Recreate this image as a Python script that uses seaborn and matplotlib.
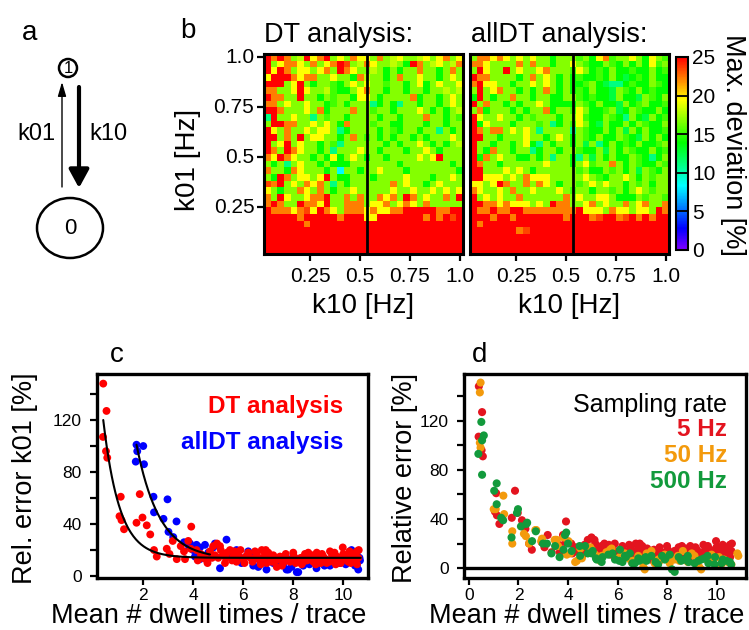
import colorsys
import numpy as np
import pandas as pd
import matplotlib
matplotlib.use("Agg")
import matplotlib.pyplot as plt
from matplotlib.colors import ListedColormap
from matplotlib.patches import Ellipse
import seaborn as sns

sns.set_theme(style="white")
plt.rcParams["font.family"] = ["Liberation Sans", "DejaVu Sans"]
plt.rcParams.update({"text.color": "black", "axes.labelcolor": "black",
                     "xtick.color": "black", "ytick.color": "black"})

# ---------------- panel b: maximal deviation maps ----------------
rate_steps = 30                      # rates k = 1/30 ... 30/30 Hz
k_ticks = [0.25, 0.5, 0.75, 1.0]
k_tick_labels = ["0.25", "0.5", "0.75", "1.0"]
colorbar_ticks = [0, 5, 10, 15, 20, 25]

# deviation classes in % (R = red ... C = cyan)
level_values = {"R": 25.0, "r": 23.5, "O": 22.2, "o": 20.8, "Y": 19.4, "y": 18.0,
                "L": 16.7, "l": 15.3, "G": 13.9, "g": 12.5, "T": 11.1, "C": 8.3}

# rows from k01 = 1.0 (top) down to k01 = 1/30; columns k10 = 1/30 ... 1.0
dt_rows = [
    "ROROLyRYORLYLOY" + "YLOLyYLLyYLYOLY",
    "RLYOOYLOLYORrLy" + "OYLLyLGROLyYLyO",
    "RYROLYYLYOLROYL" + "LyLGLGLLOLLGLOL",
    "YRRROYOOLLYLLGO" + "yLLGLOLLYLLGLYL",
    "RRRLYRLGLLlGLYL" + "YLLlLLGLYGLYLLY",
    "OOLLYRYLLylGGLY" + "OLLGLLGLLGLLyLy",
    "ROOLLRLLGLlLLGY" + "YLGLLLLOGLLGLYL",
    "OOLYLLYLLGlLGLL" + "LTGLGTLLGLLGLYL",
    "RROLLLYLOGLLLOL" + "LlLLGLLLYLGLGLy",
    "TRLLYLLTLlLLGLL" + "LLGLLGLLLOLLGLl",
    "LRROOLLYLYLGOLL" + "LlLLGGLLLGLLGLL",
    "RYLOLLYLYYLTGLL" + "LLGLlGLLGLLTLGL",
    "RRLOLRLYYLLGLOL" + "lLGLGLLGLGLLLYL",
    "RLYRLYLLGLlTLLL" + "LLLGLGLLYLGLGLy",
    "ROLROYLLGLTLLLY" + "LLGLLLGLLYLGLLL",
    "OYROYLLGLGYGLYL" + "GLLGLLLLYLYRLLL",
    "LGLTLYLLGLGGGLL" + "LLLLLGLLLLLLLGL",
    "OLLGOYLLLGLCLLG" + "LLYLLLGLLLLLLLG",
    "LGROLYYLYRLGGLL" + "LGLLLLYLLLGLLYL",
    "rORLYLOYOLTLGLL" + "LLLLOLYLLGLYLLL",
    "YLGLLOYLOLGLLYL" + "LLLLYLLYLLYLYLY",
    "OLRYLLYOORLLOLO" + "LLOYOLROLYLLOLR",
    "OROLLROOYRLLOOO" + "LYYOLYOYLOLLLLL",
    "ROOOYOrYROYLOOO" + "YOYYOORRRRROORR",
    "RRRRRORRRRRORRR" + "YYRRRRRRRORORrR",
    "RRRRRRORRRRRRRR" + "RRRRRRRRRRRRRRR",
    "RRRRRRRRRRRRRRR" + "RRRRRRRRRRRRRRR",
    "RRRRRRRRRRRRRRR" + "RRRRRRRRRRRRRRR",
    "RRRRRRRRRRRRRRR" + "RRRRRRRRRRRRRRR",
    "RRRRRRRRRRRRRRR" + "RRRRRRRRRRRRRRR",
]

alldt_rows = [
    "LOOYOYLYLYLLGLL" + "LlLGYOlLLYLGYLl",
    "OOYLLLLOLOLLGLL" + "YLlGGLlGLGLGYlL",
    "LRYLLRLYLLYOLLL" + "lYLGlGLGGlGGLGl",
    "ROOLLLLGLOLYLGL" + "GlGGlGLGgGlGLGG",
    "ORYYLLGLLYLYLGL" + "GGlLGgTTGlGGLlG",
    "LRLYOLLGLGLOLGL" + "GlGLGGgLlGLGlGG",
    "GRLGLLOLLGLLGGL" + "LlGlGGgLGGgLlGL",
    "RLOLLGLGLLYLGGG" + "GLlGLGGgLGlLGGl",
    "LOGLLLGLGLLOGLL" + "lYLGGlLgGLlGGLG",
    "RYLLYLLGLlLLLGL" + "LYlGGLlGTLGgLGl",
    "RGYLLLGLLLlLTGL" + "lYLGgLGGLGLlGGL",
    "ROLOOLYLYLTLLLL" + "TLlGGLGLgLGLGGl",
    "RRLLGLLLYLLGLYL" + "GLlGLGGLlGgLGLG",
    "RLLGLLGLYGTLGLL" + "GLgLTGLGlGLGGlL",
    "RLGOLLGLLTGLLGL" + "LlGGLgLGLlGGLGl",
    "RGOLYLLGGLGLTLL" + "GTLgLGLGGLlGTGL",
    "ROLLGLLLLLLYLLL" + "GLYlLLOLGLlGGLl",
    "RRLLLYLYLGLLLLL" + "LlLGGLlLGLgLlGL",
    "RRYYYLYLOYYYLLL" + "LLYLlGLLYLGLlLL",
    "YYLYROLLOLOYLGL" + "LlLYLYLLGLlLGLL",
    "OYLLYLOLLYLLLYL" + "lLLGLLlLGLYLlLL",
    "RLYLYLLOLLLLLLO" + "LYLLYYLGGGLlLLl",
    "RROOYOYYYLYLROO" + "LLYOLYLLOLYOLLO",
    "ROOROORROOOOOOO" + "ORYYYLOYYLYYLRO",
    "RRRORRORRRRRRRO" + "RRROrRROrRORORR",
    "RORRRRRRRRRRRRR" + "RRRRRRRRRRRRRRR",
    "RRRRRRROrRRRRRR" + "RRRRRRRRRRRRRRR",
    "RRRRRRRRRRRRRRR" + "RRRRRRRRRRRRRRR",
    "RRRRRRRRRRRRRRR" + "RRRRRRRRRRRRRRR",
    "RRRRRRRRRRRRRRR" + "RRRRRRRRRRRRRRR",
]

# ---------------- panel c / d: relative error vs. dwell times ----------------
dt_x = [0.40, 0.53, 0.39, 0.51, 0.56, 1.10, 1.05, 1.13, 1.23, 1.86, 1.73, 1.97,
        2.14, 2.28, 2.43, 2.54, 2.94, 3.18, 3.05, 3.34, 3.50, 3.63, 3.80, 3.92,
        3.67, 3.90, 4.13, 4.18, 4.37, 4.47, 4.57, 4.67, 4.80, 4.87, 4.95, 5.07,
        5.10, 5.30, 5.27, 5.47, 5.60, 5.73, 5.89, 6.00, 6.20, 6.37, 6.47, 6.64,
        6.74, 6.87, 6.94, 7.10, 7.27, 7.34, 7.47, 7.60, 7.76, 7.87, 8.03, 8.20,
        8.34, 8.47, 8.67, 8.80, 8.94, 9.07, 9.20, 9.34, 9.47, 9.60, 9.74, 9.90,
        9.98, 10.07, 10.20, 10.34, 10.40, 10.50, 10.54, 10.62,
        5.20, 5.55, 5.80, 6.10, 6.30, 6.55, 6.70, 6.80, 7.00, 7.20, 7.40, 7.55,
        7.70, 7.95, 8.10, 8.30, 8.55, 8.75, 8.90, 9.00, 9.15, 9.30, 9.45, 9.55,
        9.70, 9.85, 10.00, 10.15, 10.30, 10.45, 10.60, 4.30, 4.50, 4.75, 5.00,
        5.35, 5.65, 6.05, 6.45, 6.90, 7.15, 7.65, 8.00, 8.40, 8.60, 9.10, 9.65,
        9.95, 10.25, 10.55]
dt_y = [148, 127, 107, 96, 91, 61, 46, 43, 36, 63, 41, 45,
        39, 32, 20, 15, 21, 27, 17, 13, 23, 19, 27, 38,
        13, 21, 20, 12, 14, 15, 10, 19, 23, 16, 25, 23,
        20, 14, 10, 20, 15, 11, 20, 13, 18, 11, 19, 13,
        20, 17, 10, 14, 12, 7, 15, 10, 13, 11, 15, 12,
        9, 17, 14, 11, 18, 13, 15, 10, 19, 12, 15, 10,
        22, 15, 11, 17, 14, 12, 19, 20,
        17, 12, 16, 15, 14, 16, 9, 14, 18, 16, 13, 8,
        17, 13, 10, 14, 12, 16, 9, 14, 17, 13, 11, 16,
        9, 14, 17, 13, 10, 16, 14, 17, 13, 14, 14,
        18, 19, 10, 13, 20, 11, 14, 18, 11, 18, 10, 18,
        12, 19, 9]

alldt_x = [1.73, 2.00, 1.76, 1.70, 2.03, 2.41, 2.43, 2.81, 2.97, 3.01, 3.33, 3.20,
           3.63, 3.83, 3.87, 4.13, 4.47, 4.27, 4.00, 4.07, 4.27, 4.80, 4.87, 5.33,
           5.07, 5.73, 5.73, 5.93, 5.87, 6.20, 6.27, 6.40, 6.60, 6.67, 6.93, 6.87,
           7.20, 7.40, 7.54, 7.73, 7.80, 7.93, 8.14, 8.14, 8.20, 8.40, 8.53, 8.80,
           8.93, 8.93, 9.47, 9.74, 9.87, 10.27, 10.33, 10.40, 10.47, 10.53, 10.54,
           10.60, 10.67, 5.50, 6.05, 7.05, 7.60, 8.00, 8.65, 9.05, 9.25, 9.60,
           10.10, 9.30, 10.65, 4.60, 5.20]
alldt_y = [101, 100, 96, 88, 86, 61, 49, 44, 59, 34, 42, 30,
           26, 23, 25, 24, 24, 22, 20, 15, 13, 22, 25, 28,
           6, 20, 12, 10, 14, 19, 16, 8, 7, 12, 5, 12,
           10, 10, 14, 5, 5, 7, 13, 3, 3, 8, 10, 12,
           6, 13, 8, 11, 10, 13, 20, 15, 8, 17, 8,
           5, 12, 17, 14, 15, 9, 15, 9, 11, 8, 13,
           9, 12, 14, 18, 16]

hz50_x = [0.47, 0.44, 0.44, 0.47, 1.08, 1.39, 1.42, 1.75, 1.75, 2.22, 2.43, 2.72,
          2.95, 3.55, 3.82, 4.09, 4.36, 4.50, 4.90, 5.30, 5.70, 6.10, 6.64, 7.04,
          7.18, 7.71, 8.10, 8.50, 9.30, 9.70, 10.10, 10.37, 10.84, 1.00, 2.30,
          2.68, 2.92, 3.46, 3.60, 4.02, 3.95, 4.29, 4.56, 4.96, 5.36, 5.76, 6.03,
          6.30, 6.57, 6.84, 7.10, 7.37, 7.64, 7.91, 8.11, 8.44, 8.64, 8.84, 9.11,
          9.38, 9.58, 9.92, 10.19, 10.45, 10.88, 5.10, 5.55, 6.45, 7.50, 8.30,
          9.00, 9.80, 10.30, 10.60]
hz50_y = [151, 143, 102, 98, 48, 59, 44, 30, 20, 28, 20, 31,
          24, 23, 25, 12, 6, 16, 17, 6, 15, 9, 6, 1,
          12, 6, 9, 6, 1, 5, 9, 6, 12, 48, 26,
          31, 22, 23, 18, 22, 11, 5, 8, 15, 10, 16, 8,
          12, 5, 10, -1, 14, 7, 11, 4, 10, 14, 5, 10,
          -1, 7, 8, 3, 5, 10, 11, 13, 8, 4, 7,
          12, 11, 7, 3]

hz500_x = [0.50, 0.60, 0.53, 0.38, 0.53, 1.02, 1.12, 1.12, 1.38, 1.72, 1.98, 2.32,
           2.70, 2.99, 3.33, 3.66, 3.93, 4.00, 4.47, 4.80, 5.13, 5.40, 5.80, 6.07,
           6.34, 6.60, 6.87, 7.14, 7.54, 7.94, 8.20, 8.47, 8.87, 9.27, 9.67, 9.94,
           10.20, 10.54, 1.94, 2.35, 2.55, 3.15, 3.48, 3.82, 3.88, 4.15, 4.49, 4.69,
           4.96, 5.16, 5.36, 5.63, 5.90, 6.10, 6.30, 6.50, 6.70, 6.84, 7.17, 7.37,
           7.64, 7.91, 8.11, 8.31, 8.57, 8.84, 9.11, 9.38, 9.64, 9.92, 10.25, 10.59,
           1.30, 2.10, 5.00, 6.20, 7.00, 7.80, 8.70, 9.50, 10.40]
hz500_y = [119, 108, 104, 93, 76, 63, 69, 52, 39, 25, 48, 36,
           30, 20, 12, 9, 29, 20, 18, 12, 8, 9, 12, 6,
           9, 4, 6, 9, 5, 8, -1, 9, 5, 6, 4, 9,
           4, 5, 45, 37, 22, 20, 18, 15, 27, 14, 10, 18,
           12, 7, 5, 11, 7, 15, 10, 12, 4, 8, 6, 10,
           3, 7, 11, -3, 6, 10, 4, 7, 10, 3, 7, 3,
           41, 34, 14, 5, 7, 10, 7, 8, 6]

# exponential fits: offset + amplitude * exp(-(x - start) / decay)
dt_fit = {"offset": 14.0, "amplitude": 106.0, "start": 0.40, "decay": 0.65, "stop": 10.7}
alldt_fit = {"offset": 13.0, "amplitude": 88.0, "start": 1.73, "decay": 0.92, "stop": 4.67}

error_ticks = list(range(0, 160, 20))
dwell_ticks_c = [2, 4, 6, 8, 10]
dwell_ticks_d = [0, 2, 4, 6, 8, 10]

RED_C, BLUE_C = "#ff0000", "#0000ff"
RED_D, ORANGE_D, GREEN_D = "#e3141f", "#f39a0c", "#129a3c"

# ---------------- figure ----------------
W, H = 749, 630
fig = plt.figure(figsize=(W / 100, H / 100), dpi=100)


def box(left, top, right, bottom):
    return [left / W, 1 - bottom / H, (right - left) / W, (bottom - top) / H]


hues = np.linspace(0.75, 0.0, 256)
rainbow = ListedColormap([colorsys.hsv_to_rgb(h, 1.0, 1.0) for h in hues])

k01_values = [round((rate_steps - r) / rate_steps, 3) for r in range(rate_steps)]
k10_values = [round((c + 1) / rate_steps, 3) for c in range(rate_steps)]


def to_frame(rows):
    assert all(len(r) == rate_steps for r in rows) and len(rows) == rate_steps
    return pd.DataFrame([[level_values[ch] for ch in r] for r in rows],
                        index=k01_values, columns=k10_values)


ax_dt = fig.add_axes(box(264, 54, 463, 254))
ax_all = fig.add_axes(box(470, 54, 669, 254))
cax = fig.add_axes(box(676, 57, 688, 250))

sns.heatmap(to_frame(dt_rows), ax=ax_dt, cmap=rainbow, vmin=0, vmax=25,
            cbar_ax=cax, cbar_kws={"ticks": colorbar_ticks}, linewidths=0)
sns.heatmap(to_frame(alldt_rows), ax=ax_all, cmap=rainbow, vmin=0, vmax=25,
            cbar=False, linewidths=0)

tick_pos_x = [rate_steps * k - 0.5 for k in k_ticks]
tick_pos_y = [rate_steps + 0.5 - rate_steps * k for k in k_ticks]
for ax in (ax_dt, ax_all):
    ax.set_xticks(tick_pos_x)
    ax.set_xticklabels(k_tick_labels, rotation=0)
    ax.axvline(15.5, color="black", lw=2.0)
    for sp in ax.spines.values():
        sp.set_visible(True)
        sp.set_color("black")
        sp.set_linewidth(2.2)
    ax.tick_params(axis="x", bottom=True, direction="out", length=5, width=1.6,
                   labelsize=15, pad=4, colors="black")
    ax.set_xlabel("")
    ax.set_ylabel("")
ax_dt.set_yticks(tick_pos_y)
ax_dt.set_yticklabels(k_tick_labels, rotation=0)
ax_dt.tick_params(axis="y", left=True, direction="out", length=5, width=1.6,
                  labelsize=15, pad=2, colors="black")
ax_all.set_yticks([])

cbar = ax_dt.collections[0].colorbar
cbar.outline.set_edgecolor("black")
cbar.outline.set_linewidth(1.5)
cax.tick_params(axis="y", right=True, length=0, labelsize=15, pad=3, colors="black")
for v in colorbar_ticks[1:-1]:
    cax.axhline(v, color="black", lw=1.3)

# ---------------- panel c ----------------
ax_c = fig.add_axes(box(97, 374, 368, 578))
sns.scatterplot(x=alldt_x, y=alldt_y, color=BLUE_C, s=32, edgecolor="none",
                linewidth=0, ax=ax_c, zorder=2)
sns.scatterplot(x=dt_x, y=dt_y, color=RED_C, s=32, edgecolor="none",
                linewidth=0, ax=ax_c, zorder=3)
for fit in (dt_fit, alldt_fit):
    xs = np.linspace(fit["start"], fit["stop"], 300)
    ys = fit["offset"] + fit["amplitude"] * np.exp(-(xs - fit["start"]) / fit["decay"])
    sns.lineplot(x=xs, y=ys, color="black", lw=1.5, ax=ax_c, zorder=4)
ax_c.set_xlim(0.15, 10.99)
ax_c.set_ylim(-1.5, 155.4)

# ---------------- panel d ----------------
ax_d = fig.add_axes(box(464, 374, 746, 578))
sns.scatterplot(x=dt_x, y=dt_y, color=RED_D, s=34, edgecolor="none",
                linewidth=0, ax=ax_d, zorder=2)
sns.scatterplot(x=hz50_x, y=hz50_y, color=ORANGE_D, s=34, edgecolor="none",
                linewidth=0, ax=ax_d, zorder=3)
sns.scatterplot(x=hz500_x, y=hz500_y, color=GREEN_D, s=34, edgecolor="none",
                linewidth=0, ax=ax_d, zorder=4)
ax_d.axhline(0, color="black", lw=2.4, zorder=5)
ax_d.set_xlim(-0.2, 11.19)
ax_d.set_ylim(-8.0, 158.0)

for ax, xt in ((ax_c, dwell_ticks_c), (ax_d, dwell_ticks_d)):
    ax.set_xticks(xt)
    ax.set_xticklabels([str(v) for v in xt])
    ax.set_yticks(error_ticks)
    ax.set_yticklabels([str(v) if v % 40 == 0 else "" for v in error_ticks])
    for sp in ax.spines.values():
        sp.set_visible(True)
        sp.set_color("black")
        sp.set_linewidth(2.4)
    ax.tick_params(axis="both", left=True, bottom=True, direction="out", length=5,
                   width=1.6, labelsize=12.5, colors="black")
    ax.tick_params(axis="y", pad=6)
    ax.tick_params(axis="x", pad=2)
    ax.set_xlabel("")
    ax.set_ylabel("")

# ---------------- overlay: scheme (panel a), letters and labels ----------------
ov = fig.add_axes([0, 0, 1, 1], zorder=10)
ov.set_xlim(0, W)
ov.set_ylim(H, 0)
ov.axis("off")
ov.patch.set_visible(False)

ov.add_patch(Ellipse((68, 68), 18, 18, fill=False, lw=1.8, ec="black"))
ov.add_patch(Ellipse((70, 228), 66, 60, fill=False, lw=1.8, ec="black"))
ov.text(68, 68.5, "1", fontsize=12, ha="center", va="center")
ov.text(70, 229, "0", fontsize=16, ha="center", va="center")
ov.annotate("", xy=(62, 82), xytext=(62, 187),
            arrowprops=dict(arrowstyle="-|>,head_length=0.85,head_width=0.25",
                            mutation_scale=10, lw=1.0, color="black",
                            shrinkA=0, shrinkB=0))
ov.annotate("", xy=(79, 188), xytext=(79, 87),
            arrowprops=dict(arrowstyle="-|>,head_length=0.55,head_width=0.3",
                            mutation_scale=20, lw=3.0, color="black",
                            shrinkA=0, shrinkB=0))
ov.text(36, 134, "k01", fontsize=17, ha="center", va="center")
ov.text(108, 134, "k10", fontsize=17, ha="center", va="center")

for letter, (lx, ly) in {"a": (30, 33), "b": (188, 31), "c": (117, 355), "d": (480, 355)}.items():
    ov.text(lx, ly, letter, fontsize=20, ha="center", va="center")

ov.text(264, 41.5, "DT analysis:", fontsize=19.5, ha="left", va="baseline")
ov.text(471, 41.5, "allDT analysis:", fontsize=19.5, ha="left", va="baseline")
ov.text(188, 160, "k01 [Hz]", fontsize=20, rotation=90, ha="center", va="center")
ov.text(363, 313, "k10 [Hz]", fontsize=20, ha="center", va="baseline")
ov.text(569, 313, "k10 [Hz]", fontsize=20, ha="center", va="baseline")
ov.text(733, 145, "Max. deviation [%]", fontsize=19.5, rotation=270,
        ha="center", va="center")

ov.text(25, 478, "Rel. error k01 [%]", fontsize=19.5, rotation=90, ha="center", va="center")
ov.text(405, 478, "Relative error [%]", fontsize=19.5, rotation=90, ha="center", va="center")
ov.text(209, 623, "Mean # dwell times / trace", fontsize=19.5, ha="center", va="baseline")
ov.text(587, 623, "Mean # dwell times / trace", fontsize=19.5, ha="center", va="baseline")

ov.text(343, 407, "DT analysis", fontsize=17.5, fontweight="bold", color=RED_C,
        ha="right", va="center")
ov.text(343, 443, "allDT analysis", fontsize=17.5, fontweight="bold", color=BLUE_C,
        ha="right", va="center")
ov.text(727, 405, "Sampling rate", fontsize=18, color="black", ha="right", va="center")
ov.text(727, 430, "5 Hz", fontsize=17.5, fontweight="bold", color=RED_D, ha="right", va="center")
ov.text(727, 455, "50 Hz", fontsize=17.5, fontweight="bold", color=ORANGE_D, ha="right", va="center")
ov.text(727, 482, "500 Hz", fontsize=17.5, fontweight="bold", color=GREEN_D, ha="right", va="center")

fig.savefig("out.png", dpi=100)
